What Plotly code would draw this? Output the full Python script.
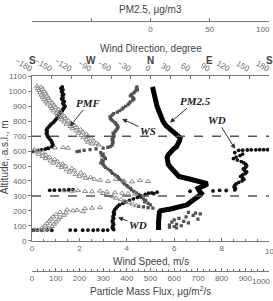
import plotly.graph_objects as go

# ---------------- DATA ----------------
# PM2.5 profile (ug/m3) vs altitude (m)
pm_alt = [1030, 1000, 960, 930, 900, 870, 835, 800, 770, 750, 725, 705, 690, 670, 650, 630, 610, 596, 575, 556,
          530, 511, 490, 466, 445, 430, 415, 400, 390, 382, 370, 360, 350, 335, 317, 300, 285, 272, 255, 240,
          225, 212, 205, 200, 190, 170, 155, 130, 100, 71]
pm_val = [1.7, 2.5, 3.5, 4, 5.5, 7, 8.5, 10.5, 13, 16, 19, 22, 25, 24.5, 23.5, 22, 19, 17, 15, 14,
          14.5, 15, 17, 20, 22, 24, 32, 40, 45, 48, 46, 42, 40, 41, 43, 41, 38, 36, 33, 31,
          25, 17, 12, 8.5, 7.5, 7, 7, 6.8, 6.8, 6.8]

# Wind speed (m/s)
ws_alt = [1030, 1020, 1010, 1000, 990, 980, 970, 960, 950, 940, 930, 920, 910, 900, 890, 880, 870, 860, 850, 840,
          830, 820, 810, 800, 790, 780, 770, 760, 750, 740, 730, 720, 710, 700, 690, 680, 670, 660, 650, 640,
          630, 625, 620, 615, 610, 605, 600, 596,
          590, 580, 570, 560, 550, 540, 530, 520, 510, 500, 490, 480, 470, 460, 450, 440, 430, 420, 410, 400,
          390, 380, 370, 360, 350, 340, 330, 320, 310, 300, 290,
          280, 270, 260, 250, 240, 230, 226, 222, 218,
          190, 185, 180, 170, 160, 150, 145, 140, 130, 125, 120, 110, 105, 100, 95, 90, 85]
ws_val = [4.43, 4.4, 4.45, 4.35, 4.3, 4.2, 4.15, 4.25, 4.3, 4.25, 4.15, 4.1, 4.05, 3.95, 3.85, 3.8, 3.7, 3.6, 3.45, 3.38,
          3.3, 3.3, 3.35, 3.42, 3.5, 3.55, 3.6, 3.63, 3.6, 3.55, 3.5, 3.42, 3.45, 3.46, 3.42, 3.38, 3.4, 3.42, 3.4, 3.38,
          3.3, 3.2, 3.0, 2.7, 2.45, 2.2, 2.0, 1.9,
          2.9, 3.0, 2.95, 3.05, 3.1, 2.95, 3.0, 2.9, 3.0, 3.05, 3.1, 3.2, 3.3, 3.35, 3.4, 3.5, 3.6, 3.65, 3.7, 3.8,
          3.85, 3.9, 4.0, 4.05, 4.15, 4.2, 4.3, 4.4, 4.5, 4.55, 4.6,
          4.7, 4.8, 4.75, 4.9, 5.0, 4.5, 4.7, 4.9, 5.1,
          6.6, 6.9, 7.1, 6.8, 6.5, 6.2, 7.0, 6.0, 6.4, 5.9, 6.6, 6.1, 5.8, 6.3, 6.0, 5.8, 6.1]

# Wind direction (degree)
wd_upper_alt = [1030, 1020, 1010, 1000, 990, 980, 970, 960, 950, 940, 930, 920, 910, 900, 890, 880, 870, 860, 850, 840,
                830, 820, 810, 800, 790, 780, 770, 760, 750, 740, 730, 720, 710, 700, 690, 680, 670, 660, 650, 640,
                630, 620]
wd_upper_deg = [-134, -136, -133, -135, -134, -132, -134, -133, -135, -133, -131, -133, -132, -130, -131, -133, -134, -136, -138, -139,
                -140, -142, -144, -146, -148, -151, -153, -155, -157, -158, -157, -158, -157, -156, -155, -153, -151, -150, -149, -148,
                -150, -156]
wd_wrap_alt = [598, 603, 608, 613, 618, 609, 609, 609, 608, 608, 607, 606, 605]
wd_wrap_deg = [-178, -172, -166, -160, -155, 178, 172, 166, 160, 153, 147, 140, 134]
wd_mid_alt = [590, 580, 570, 560, 550, 540, 530, 520, 510, 500, 490, 480, 470, 460, 450, 440, 430, 420, 410, 400,
              390, 380, 370, 360, 350, 340]
wd_mid_deg = [128, 140, 136, 130, 126, 132, 138, 142, 145, 146, 144, 141, 143, 146, 144, 140, 137, 140, 142, 139,
              134, 130, 128, 127, 129, 128]
wd_trans_alt = [336, 337, 333, 331, 325, 320, 318, 315, 337, 338, 339, 340, 341, 342]
wd_trans_deg = [115, 105, 95, 60, 10, 2, -3, 5, -153, -146, -138, -131, -124, -118]
wd_low_alt = [310, 300, 290, 280, 270, 260, 250, 240, 230, 220, 210, 200, 190, 180, 170, 160, 150, 140, 130, 120,
              110, 100, 90, 80, 75]
wd_low_deg = [-8, -15, -20, -26, -32, -38, -42, -47, -50, -52, -54, -55, -56, -55, -56, -57, -56, -57, -58, -57,
              -56, -57, -58, -57, -56]
wd_base_alt = [70, 71, 70, 72, 70, 71, 70, 70, 71, 70, 72, 70, 71]
wd_base_deg = [-178, -172, -165, -157, -150, -122, -114, -103, -95, -87, -80, -72, -65]

# Particle mass flux (ug/m2/s)
pmf_a_alt = [1035, 1028, 1020, 1013, 1005, 998, 990, 983, 975, 968, 960, 953, 945, 938, 930, 923, 915, 908, 900, 893,
             885, 878, 870, 863, 855, 848, 840, 833, 825, 818, 810, 803, 795, 788, 780, 773, 765, 758, 750, 743,
             735, 728, 720, 713, 705, 698, 690, 683, 675, 668, 660, 653, 648, 641, 622, 624, 620]
pmf_a_val = [21, 40, 25, 44, 30, 53, 34, 57, 40, 63, 46, 70, 51, 74, 59, 86, 66, 93, 78, 99,
             84, 112, 91, 118, 103, 125, 108, 137, 120, 141, 125, 154, 137, 163, 146, 179, 162, 188, 171, 205,
             188, 213, 196, 230, 209, 234, 217, 251, 230, 260, 236, 272, 251, 281, 97, 131, 152]
pmf_b_alt = [610, 604, 595, 589, 580, 574, 565, 559, 550, 544, 535, 529, 520, 514, 505, 499, 490, 484, 475, 469,
             460, 454, 445, 439, 430, 424, 418, 412]
pmf_b_val = [10, 28, 17, 44, 27, 59, 45, 74, 58, 95, 78, 108, 90, 129, 112, 141, 125, 168, 146, 178,
             158, 206, 184, 221, 200, 247, 227, 263]
pmf_c_alt = [405, 398, 410, 400, 395, 403, 397, 335, 332, 336, 330, 328, 333, 327, 322, 318, 315, 312]
pmf_c_val = [287, 321, 354, 388, 422, 456, 489, 139, 169, 194, 224, 253, 287, 316, 350, 380, 405, 435]
pmf_d_alt = [317, 305, 295, 285, 275, 265, 255, 245, 235, 207, 205, 215, 218, 222, 200, 195]
pmf_d_val = [300, 320, 340, 355, 375, 390, 410, 425, 440, 148, 190, 224, 253, 287, 173, 215]
pmf_e_alt = [190, 186, 175, 171, 160, 156, 145, 141, 130, 126, 115, 111, 100, 96, 85, 81, 72, 72, 73]
pmf_e_val = [118, 143, 101, 135, 89, 118, 80, 110, 72, 101, 63, 93, 55, 84, 42, 68, 13, 34, 55]

ref_alts = [300, 700]
compass_deg = [-180, -90, 0, 90, 180]
compass_lbl = ["S", "W", "N", "E", "S"]
pm_ticks = [0, 50]
ws_ticks = [0, 2, 4, 6, 8]
pmf_ticks = [0, 100, 200, 300, 400, 500, 600, 700, 800, 900]

# ---------------- FIGURE ----------------
W, H = 273, 301
TOP_PLOT, BOT_PLOT = 74.6, 244.0

def py(px):
    return (H - px) / H

fig = go.Figure()

fig.add_trace(go.Scatter(
    x=pmf_a_val + pmf_b_val + pmf_c_val + pmf_d_val + pmf_e_val,
    y=pmf_a_alt + pmf_b_alt + pmf_c_alt + pmf_d_alt + pmf_e_alt,
    xaxis="x3", yaxis="y", mode="markers",
    marker=dict(symbol="triangle-up-open", size=4.5, color="#8a8a8a", line=dict(width=1, color="#8a8a8a"))))

fig.add_trace(go.Scatter(
    x=ws_val, y=ws_alt, xaxis="x", yaxis="y", mode="markers",
    marker=dict(symbol="square", size=3.2, color="#505050")))

fig.add_trace(go.Scatter(
    x=wd_upper_deg + wd_wrap_deg + wd_mid_deg + wd_trans_deg + wd_low_deg + wd_base_deg,
    y=wd_upper_alt + wd_wrap_alt + wd_mid_alt + wd_trans_alt + wd_low_alt + wd_base_alt,
    xaxis="x2", yaxis="y", mode="markers",
    marker=dict(symbol="circle", size=3.8, color="#111111")))

fig.add_trace(go.Scatter(
    x=pm_val, y=pm_alt, xaxis="x4", yaxis="y", mode="lines",
    line=dict(color="black", width=5)))

tickfont = dict(family="Liberation Sans, Arial", size=8, color="#666")
axcol = "#777"
common = dict(showgrid=False, zeroline=False, showline=True, linecolor=axcol, linewidth=1,
              tickfont=tickfont, tickcolor=axcol)

fig.update_layout(
    width=W, height=H,
    margin=dict(l=32, r=4, t=0, b=0),
    paper_bgcolor="white", plot_bgcolor="white",
    showlegend=False,
    xaxis=dict(range=[0, 10], tickvals=ws_ticks, ticks="inside", ticklen=3, anchor="y", side="bottom",
               minor=dict(dtick=0.5, ticks="inside", ticklen=2, tickcolor=axcol), **common),
    xaxis2=dict(range=[-180, 180], dtick=30, ticks="inside", ticklen=3, overlaying="x", anchor="y",
                side="top", **common),
    xaxis3=dict(range=[0, 1000], tickvals=pmf_ticks, ticks="inside", ticklen=3, overlaying="x", anchor="free",
                position=py(275), side="bottom",
                minor=dict(dtick=25, ticks="inside", ticklen=2, tickcolor=axcol), **common),
    xaxis4=dict(range=[-100, 100], tickvals=pm_ticks, ticks="inside", ticklen=3,
                overlaying="x", anchor="free", position=py(18), side="bottom",
                minor=dict(dtick=50, ticks="inside", ticklen=3, tickcolor=axcol), **common),
    yaxis=dict(range=[0, 1100], dtick=100, ticks="outside", ticklen=3,
               domain=[py(BOT_PLOT), py(TOP_PLOT)], **common),
    yaxis2=dict(range=[0, 1100], overlaying="y", side="right", showticklabels=False, ticks="inside",
                ticklen=2, dtick=20, showgrid=False, zeroline=False, showline=True, linecolor=axcol,
                tickcolor=axcol),
)

for a in ref_alts:
    fig.add_shape(type="line", xref="paper", yref="y", x0=0, x1=1, y0=a, y1=a,
                  line=dict(color="#555", width=1.5, dash="dash"))

# end-of-axis tick labels at the right edge (kept inside the picture)
edge_labels = [("10", "x", 10, py(255), "center"), ("1000", "x3", 1000, py(286), "right"),
               ("100", "x4", 100, py(26), "right")]
for t, xr, xv, yv, anc in edge_labels:
    fig.add_annotation(text=t, x=xv, y=yv, xref=xr, yref="paper", showarrow=False, font=tickfont,
                       xanchor=anc, yanchor="middle", xshift=(3 if anc == "right" else 0))

titlefont = dict(family="Liberation Sans, Arial", size=10, color="#444")
texts = [
    ("PM2.5, \u03bcg/m3", 0.5, py(6)),
    ("Wind Direction, degree", 0.5, py(46)),
    ("Wind Speed, m/s", 0.5, py(265)),
    ("Particle Mass Flux, \u03bcg/m<sup>2</sup>/s", 0.5, py(296)),
]
for t, xx, yy in texts:
    fig.add_annotation(text=t, x=xx, y=yy, xref="paper", yref="paper", showarrow=False, font=titlefont,
                       xanchor="center", yanchor="middle")

fig.add_annotation(text="Altitude, a.s.l., m", x=(4 - 32) / 237, y=py(158), xref="paper", yref="paper",
                   showarrow=False, textangle=-90, font=titlefont, xanchor="center", yanchor="middle")

for d, l in zip(compass_deg, compass_lbl):
    fig.add_annotation(text="<b>" + l + "</b>", x=d, y=py(58), xref="x2", yref="paper", showarrow=False,
                       font=dict(family="Liberation Sans, Arial", size=10, color="#444"),
                       xanchor="center", yanchor="middle")

labfont = dict(family="Liberation Serif, Times New Roman", size=11, color="#222")
labels = [
    ("PMF", 1.6, 764, 19, -24),
    ("WS", 3.8, 815, 26, 12),
    ("PM2.5", 5.82, 790, 26, -22),
    ("WD", 8.57, 615, -18, -29),
    ("WD", 3.63, 155, 20, 7),
]
for t, xx, yy, ax, ay in labels:
    fig.add_annotation(text="<b><i>" + t + "</i></b>", x=xx, y=yy, xref="x", yref="y",
                       ax=ax, ay=ay, showarrow=True, arrowhead=2, arrowsize=1, arrowwidth=1,
                       arrowcolor="#333", font=labfont)

fig.write_html("out.html")
